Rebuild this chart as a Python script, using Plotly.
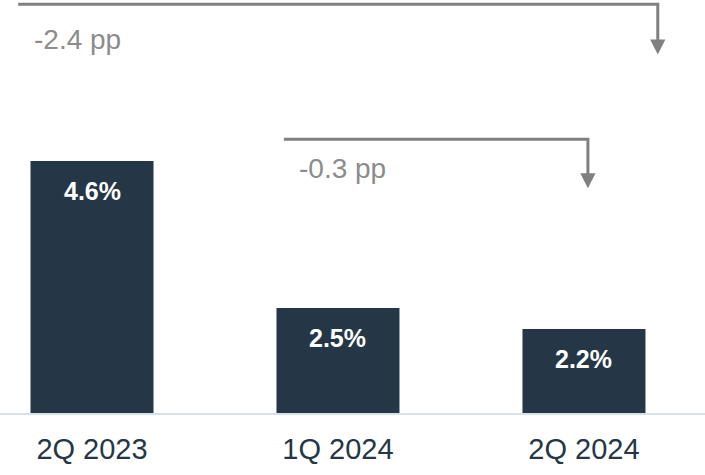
import plotly.graph_objects as go

# data
quarters = ['2Q 2023', '1Q 2024', '2Q 2024']
rates = [4.6, 2.5, 2.2]
rate_labels = ['4.6%', '2.5%', '2.2%']

NAVY = '#253746'
GREY = '#808080'

fig = go.Figure()

fig.add_trace(go.Bar(
    x=list(range(len(quarters))),
    y=[r - 1 for r in rates],
    base=1,
    marker_color=NAVY,
    marker_line_width=0,
    hoverinfo='skip',
))

# value labels near top of each bar
for i, (r, lab) in enumerate(zip(rates, rate_labels)):
    fig.add_annotation(
        x=i, y=r, text=f'<b>{lab}</b>', showarrow=False,
        yanchor='middle', yshift=-30,
        font=dict(size=25, color='white', family='Liberation Sans, Arial, sans-serif'),
    )

# change brackets with arrow down to the latest bar
def bracket(x0, x1, y_line, y_tip, text, tx, ty):
    fig.add_shape(type='path',
                  path=f'M {x0} {y_line} L {x1} {y_line} L {x1} {y_tip + 0.2}',
                  line=dict(color=GREY, width=3), layer='above')
    fig.add_shape(type='path',
                  path=f'M {x1 - 0.031} {y_tip + 0.215} L {x1 + 0.031} {y_tip + 0.215} L {x1} {y_tip} Z',
                  fillcolor=GREY, line=dict(color=GREY, width=0), layer='above')
    fig.add_annotation(x=tx, y=ty, text=text, showarrow=False,
                       xanchor='left', yanchor='middle',
                       font=dict(size=28, color='#8c8c8c',
                                 family='Liberation Sans, Arial, sans-serif'))

d_year = rates[2] - rates[0]
d_qtr = rates[2] - rates[1]
bracket(-0.30, 2.30, 6.84, 6.12, f'{d_year:.1f} pp', -0.245, 6.33)
bracket(0.78, 2.016, 4.91, 4.21, f'{d_qtr:.1f} pp', 0.835, 4.50)

fig.update_layout(
    width=705, height=475,
    margin=dict(l=0, r=0, t=0, b=62),
    paper_bgcolor='white', plot_bgcolor='white',
    bargap=0.5, showlegend=False,
    font=dict(family='Liberation Sans, Arial, sans-serif'),
)
fig.update_xaxes(
    range=[-0.374, 2.492],
    tickmode='array', tickvals=list(range(len(quarters))), ticktext=quarters,
    tickfont=dict(size=29, color=NAVY),
    showgrid=False, zeroline=False,
    showline=True, linecolor='#d6e1e9', linewidth=2,
    ticks='', ticklabelstandoff=9,
    fixedrange=True,
)
fig.update_yaxes(range=[1, 6.9], visible=False, showgrid=False, zeroline=False, fixedrange=True)

fig.write_html('out.html', config={'displayModeBar': False},
               post_script="document.body.style.margin='0';")
